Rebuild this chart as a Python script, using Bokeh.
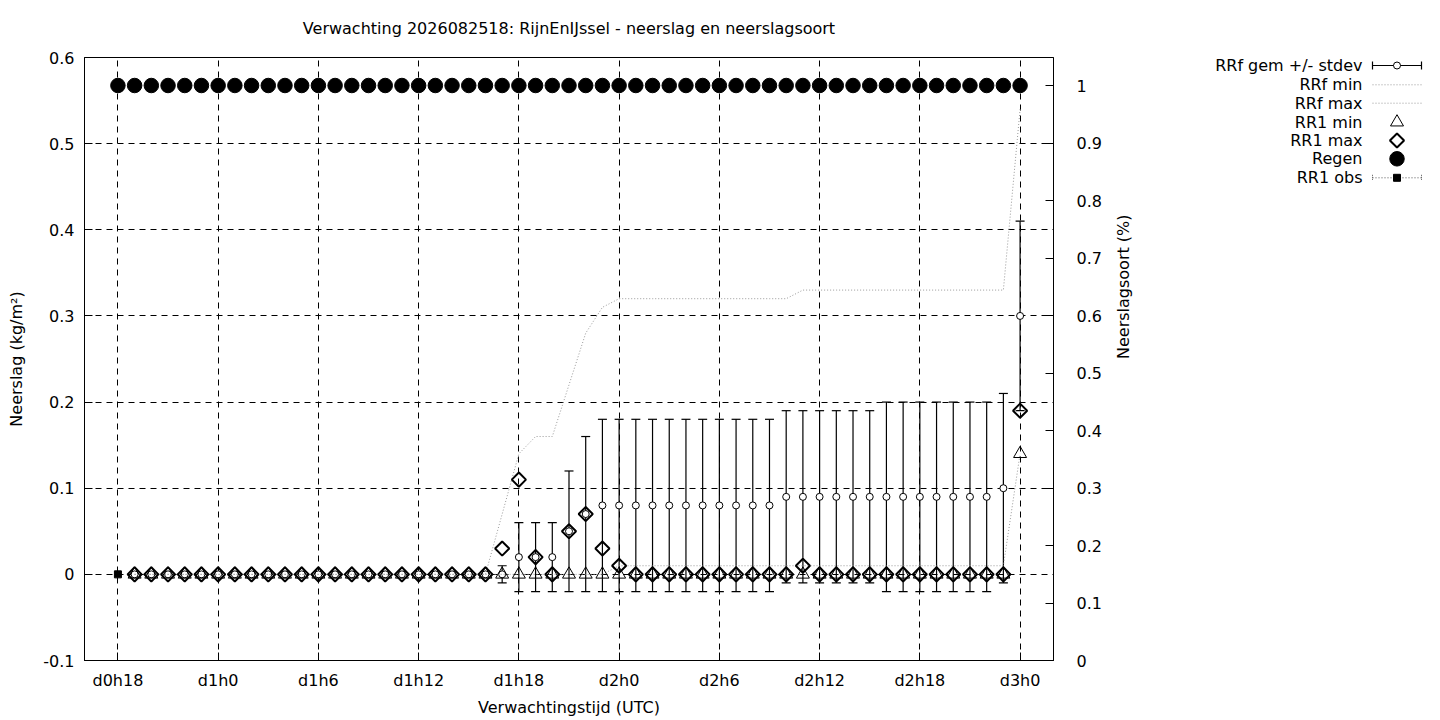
import math
from bokeh.plotting import figure
from bokeh.models import Range1d, LinearAxis, FixedTicker
from bokeh.layouts import row
from bokeh.embed import file_html
from bokeh.resources import INLINE
from bokeh.core.properties import value

FONT = "DejaVu Sans"
FS = "16px"

title_text = "Verwachting 2026082518: RijnEnIJssel - neerslag en neerslagsoort"
x_label = "Verwachtingstijd (UTC)"
y_label = "Neerslag (kg/m²)"
y2_label = "Neerslagsoort (%)"

x_ticks = [18, 24, 30, 36, 42, 48, 54, 60, 66, 72]
x_tick_labels = ["d0h18", "d1h0", "d1h6", "d1h12", "d1h18", "d2h0", "d2h6", "d2h12", "d2h18", "d3h0"]
y_ticks = [-0.1, 0.0, 0.1, 0.2, 0.3, 0.4, 0.5, 0.6]
y_tick_labels = ["-0.1", "0", "0.1", "0.2", "0.3", "0.4", "0.5", "0.6"]
y2_ticks = [0.0, 0.1, 0.2, 0.3, 0.4, 0.5, 0.6, 0.7, 0.8, 0.9, 1.0]
y2_tick_labels = ["0", "0.1", "0.2", "0.3", "0.4", "0.5", "0.6", "0.7", "0.8", "0.9", "1"]

# hours since d0h0
hours_all = list(range(18, 73))   # d0h18 .. d3h0
hours_fc = list(range(19, 73))    # d0h19 .. d3h0

regen = [1, 1, 1, 1, 1, 1, 1, 1, 1, 1, 1, 1, 1, 1, 1, 1, 1, 1, 1, 1,
         1, 1, 1, 1, 1, 1, 1, 1, 1, 1, 1, 1, 1, 1, 1, 1, 1, 1, 1, 1,
         1, 1, 1, 1, 1, 1, 1, 1, 1, 1, 1, 1, 1, 1, 1]

obs_hours = [18]
rr1_obs = [0.0]

rrf_mean = [0, 0, 0, 0, 0, 0, 0, 0, 0, 0, 0, 0, 0, 0, 0, 0, 0, 0, 0, 0,
            0, 0, 0, 0.02, 0.02, 0.02, 0.05, 0.07, 0.08, 0.08, 0.08, 0.08, 0.08, 0.08, 0.08, 0.08,
            0.08, 0.08, 0.08, 0.09, 0.09, 0.09, 0.09, 0.09, 0.09, 0.09, 0.09, 0.09, 0.09, 0.09,
            0.09, 0.09, 0.10, 0.30]
rrf_std = [0, 0, 0, 0, 0, 0, 0, 0, 0, 0, 0, 0, 0, 0, 0, 0, 0, 0, 0, 0,
           0, 0, 0.01, 0.04, 0.04, 0.04, 0.07, 0.09, 0.10, 0.10, 0.10, 0.10, 0.10, 0.10, 0.10, 0.10,
           0.10, 0.10, 0.10, 0.10, 0.10, 0.10, 0.10, 0.10, 0.10, 0.11, 0.11, 0.11, 0.11, 0.11,
           0.11, 0.11, 0.11, 0.11]
rrf_min = [0, 0, 0, 0, 0, 0, 0, 0, 0, 0, 0, 0, 0, 0, 0, 0, 0, 0, 0, 0,
           0, 0, 0, 0, 0, 0, 0, 0, 0, 0.01, 0.01, 0.01, 0.01, 0.01, 0.01, 0.01,
           0.01, 0.01, 0.01, 0.01, 0.01, 0.01, 0.01, 0.01, 0.01, 0.01, 0.01, 0.01, 0.01, 0.01,
           0.01, 0.01, 0.01, 0.14]
rrf_max = [0, 0, 0, 0, 0, 0, 0, 0, 0, 0, 0, 0, 0, 0, 0, 0, 0, 0, 0, 0,
           0, 0, 0.07, 0.14, 0.16, 0.16, 0.22, 0.28, 0.31, 0.32, 0.32, 0.32, 0.32, 0.32, 0.32, 0.32,
           0.32, 0.32, 0.32, 0.32, 0.33, 0.33, 0.33, 0.33, 0.33, 0.33, 0.33, 0.33, 0.33, 0.33,
           0.33, 0.33, 0.33, 0.54]
rr1_min = [0, 0, 0, 0, 0, 0, 0, 0, 0, 0, 0, 0, 0, 0, 0, 0, 0, 0, 0, 0,
           0, 0, 0, 0, 0, 0, 0, 0, 0, 0, 0, 0, 0, 0, 0, 0,
           0, 0, 0, 0, 0, 0, 0, 0, 0, 0, 0, 0, 0, 0,
           0, 0, 0, 0.14]
rr1_max = [0, 0, 0, 0, 0, 0, 0, 0, 0, 0, 0, 0, 0, 0, 0, 0, 0, 0, 0, 0,
           0, 0, 0.03, 0.11, 0.02, 0.00, 0.05, 0.07, 0.03, 0.01, 0, 0, 0, 0, 0, 0,
           0, 0, 0, 0, 0.01, 0, 0, 0, 0, 0, 0, 0, 0, 0,
           0, 0, 0, 0.19]

legend_labels = ["RRf gem +/- stdev", "RRf min", "RRf max", "RR1 min", "RR1 max", "Regen", "RR1 obs"]

lower = [m - s for m, s in zip(rrf_mean, rrf_std)]
upper = [m + s for m, s in zip(rrf_mean, rrf_std)]

TOTAL_W, H = 1440, 720
W_MAIN = 1148
p = figure(width=W_MAIN, height=H, x_range=Range1d(16, 74), y_range=Range1d(-0.1, 0.6),
           output_backend="svg", toolbar_location=None,
           min_border_left=84, min_border_right=95, min_border_top=57, min_border_bottom=60)
p.extra_y_ranges = {"pct": Range1d(0, 1.0487)}

p.title.text = title_text
p.title.align = "center"
p.title.vertical_align = "top"
p.title.text_font = FONT
p.title.text_font_size = FS
p.title.text_font_style = "normal"
p.title.text_color = "black"
p.title.standoff = 35

p.outline_line_color = "black"
p.outline_line_width = 1
p.background_fill_color = "white"
p.border_fill_color = "white"

# axes
xa = p.xaxis[0]
xa.ticker = FixedTicker(ticks=x_ticks)
xa.major_label_overrides = dict(zip(x_ticks, x_tick_labels))
ya = p.yaxis[0]
ya.ticker = FixedTicker(ticks=y_ticks)
ya.major_label_overrides = dict(zip(y_ticks, y_tick_labels))
ya2 = LinearAxis(y_range_name="pct", ticker=FixedTicker(ticks=y2_ticks),
                 major_label_overrides=dict(zip(y2_ticks, y2_tick_labels)))
p.add_layout(ya2, "right")

xa.axis_label = x_label
ya.axis_label = y_label
ya2.axis_label = y2_label
try:
    ya2.axis_label_orientation = math.pi / 2
except Exception:
    pass

for ax in (xa, ya, ya2):
    ax.axis_line_color = "black"
    ax.major_tick_line_color = "black"
    ax.major_tick_in = 8
    ax.major_tick_out = 0
    ax.minor_tick_line_color = None
    ax.major_label_text_font = FONT
    ax.major_label_text_font_size = FS
    ax.major_label_text_color = "black"
    ax.axis_label_text_font = FONT
    ax.axis_label_text_font_size = FS
    ax.axis_label_text_font_style = "normal"
    ax.axis_label_text_color = "black"

xa.major_label_standoff = 10
xa.axis_label_standoff = 5
ya.major_label_standoff = 10
ya.axis_label_standoff = 14
ya2.major_label_standoff = 23
ya2.axis_label_standoff = 19

# grid
p.xgrid.ticker = FixedTicker(ticks=x_ticks)
p.ygrid.ticker = FixedTicker(ticks=y_ticks)
for g in (p.xgrid[0], p.ygrid[0]):
    g.grid_line_color = "black"
    g.grid_line_width = 1
    g.grid_line_dash = "6 5"

# RRf gem +/- stdev
p.segment(x0=hours_fc, y0=lower, x1=hours_fc, y1=upper, line_color="black", line_width=1.2)
p.scatter(hours_fc, upper, marker="dash", size=9, line_color="black", line_width=1.2)
p.scatter(hours_fc, lower, marker="dash", size=9, line_color="black", line_width=1.2)
p.scatter(hours_fc, rrf_mean, marker="circle", size=7, line_color="black", line_width=1,
          fill_color="white")
# RRf min / max
p.line(hours_fc, rrf_min, line_color="#999999", line_width=1, line_dash="1 2")
p.line(hours_fc, rrf_max, line_color="#999999", line_width=1, line_dash="1 2")
# RR1 min / max
p.scatter(hours_fc, rr1_min, marker="triangle", size=13, line_color="black", line_width=1,
          fill_alpha=0)
p.scatter(hours_fc, rr1_max, marker="square", angle=math.pi / 4, size=10, line_color="black",
          line_width=2, fill_alpha=0)
# Regen
p.scatter(hours_all, regen, y_range_name="pct", marker="circle", size=14.5, color="black")
# RR1 obs
p.scatter(obs_hours, rr1_obs, marker="square", size=7, color="black")

# ---- legend panel: its ranges are the page's pixel coordinates ----
W_LEG = TOTAL_W - W_MAIN
X0 = W_MAIN
leg = figure(width=W_LEG, height=H, x_range=Range1d(X0, X0 + W_LEG), y_range=Range1d(660, 57),
             output_backend="svg", toolbar_location=None, x_axis_location=None,
             y_axis_location=None, min_border_left=0, min_border_right=0,
             min_border_top=57, min_border_bottom=60)
leg.outline_line_color = None
leg.xgrid.visible = False
leg.ygrid.visible = False
leg.background_fill_color = "white"
leg.border_fill_color = "white"

leg_rows = [65, 84.3, 102.7, 121.7, 140, 158.3, 177.3]
TX = 1362
S0, S1 = 1372, 1421
SC = (S0 + S1) / 2
r = leg_rows

leg.text(x=[TX] * len(legend_labels), y=leg_rows, text=legend_labels, text_align="right",
         text_baseline="middle", text_font=value(FONT), text_font_size=FS, text_color="black")
# RRf gem +/- stdev
leg.segment(x0=[S0], y0=[r[0]], x1=[S1], y1=[r[0]], line_color="black", line_width=1.2)
leg.segment(x0=[S0, S1], y0=[r[0] - 4, r[0] - 4], x1=[S0, S1], y1=[r[0] + 4, r[0] + 4],
            line_color="black", line_width=1.2)
leg.scatter([SC], [r[0]], marker="circle", size=7, line_color="black", fill_color="white")
# RRf min / max
leg.segment(x0=[S0, S0], y0=[r[1], r[2]], x1=[S1, S1], y1=[r[1], r[2]],
            line_color="#999999", line_width=1, line_dash="1 2")
# RR1 min / max
leg.scatter([SC], [r[3]], marker="triangle", size=13, line_color="black", fill_alpha=0)
leg.scatter([SC], [r[4]], marker="square", angle=math.pi / 4, size=10, line_color="black",
            line_width=2, fill_alpha=0)
# Regen
leg.scatter([SC], [r[5]], marker="circle", size=14.5, color="black")
# RR1 obs
leg.segment(x0=[S0], y0=[r[6]], x1=[S1], y1=[r[6]], line_color="#555555", line_width=1,
            line_dash="1 2")
leg.segment(x0=[S0, S1], y0=[r[6] - 3, r[6] - 3], x1=[S0, S1], y1=[r[6] + 3, r[6] + 3],
            line_color="#555555", line_width=1, line_dash="1 1")
leg.scatter([SC], [r[6]], marker="square", size=7, color="black")

layout = row(p, leg)
open("out.html", "w").write(file_html(layout, INLINE))
